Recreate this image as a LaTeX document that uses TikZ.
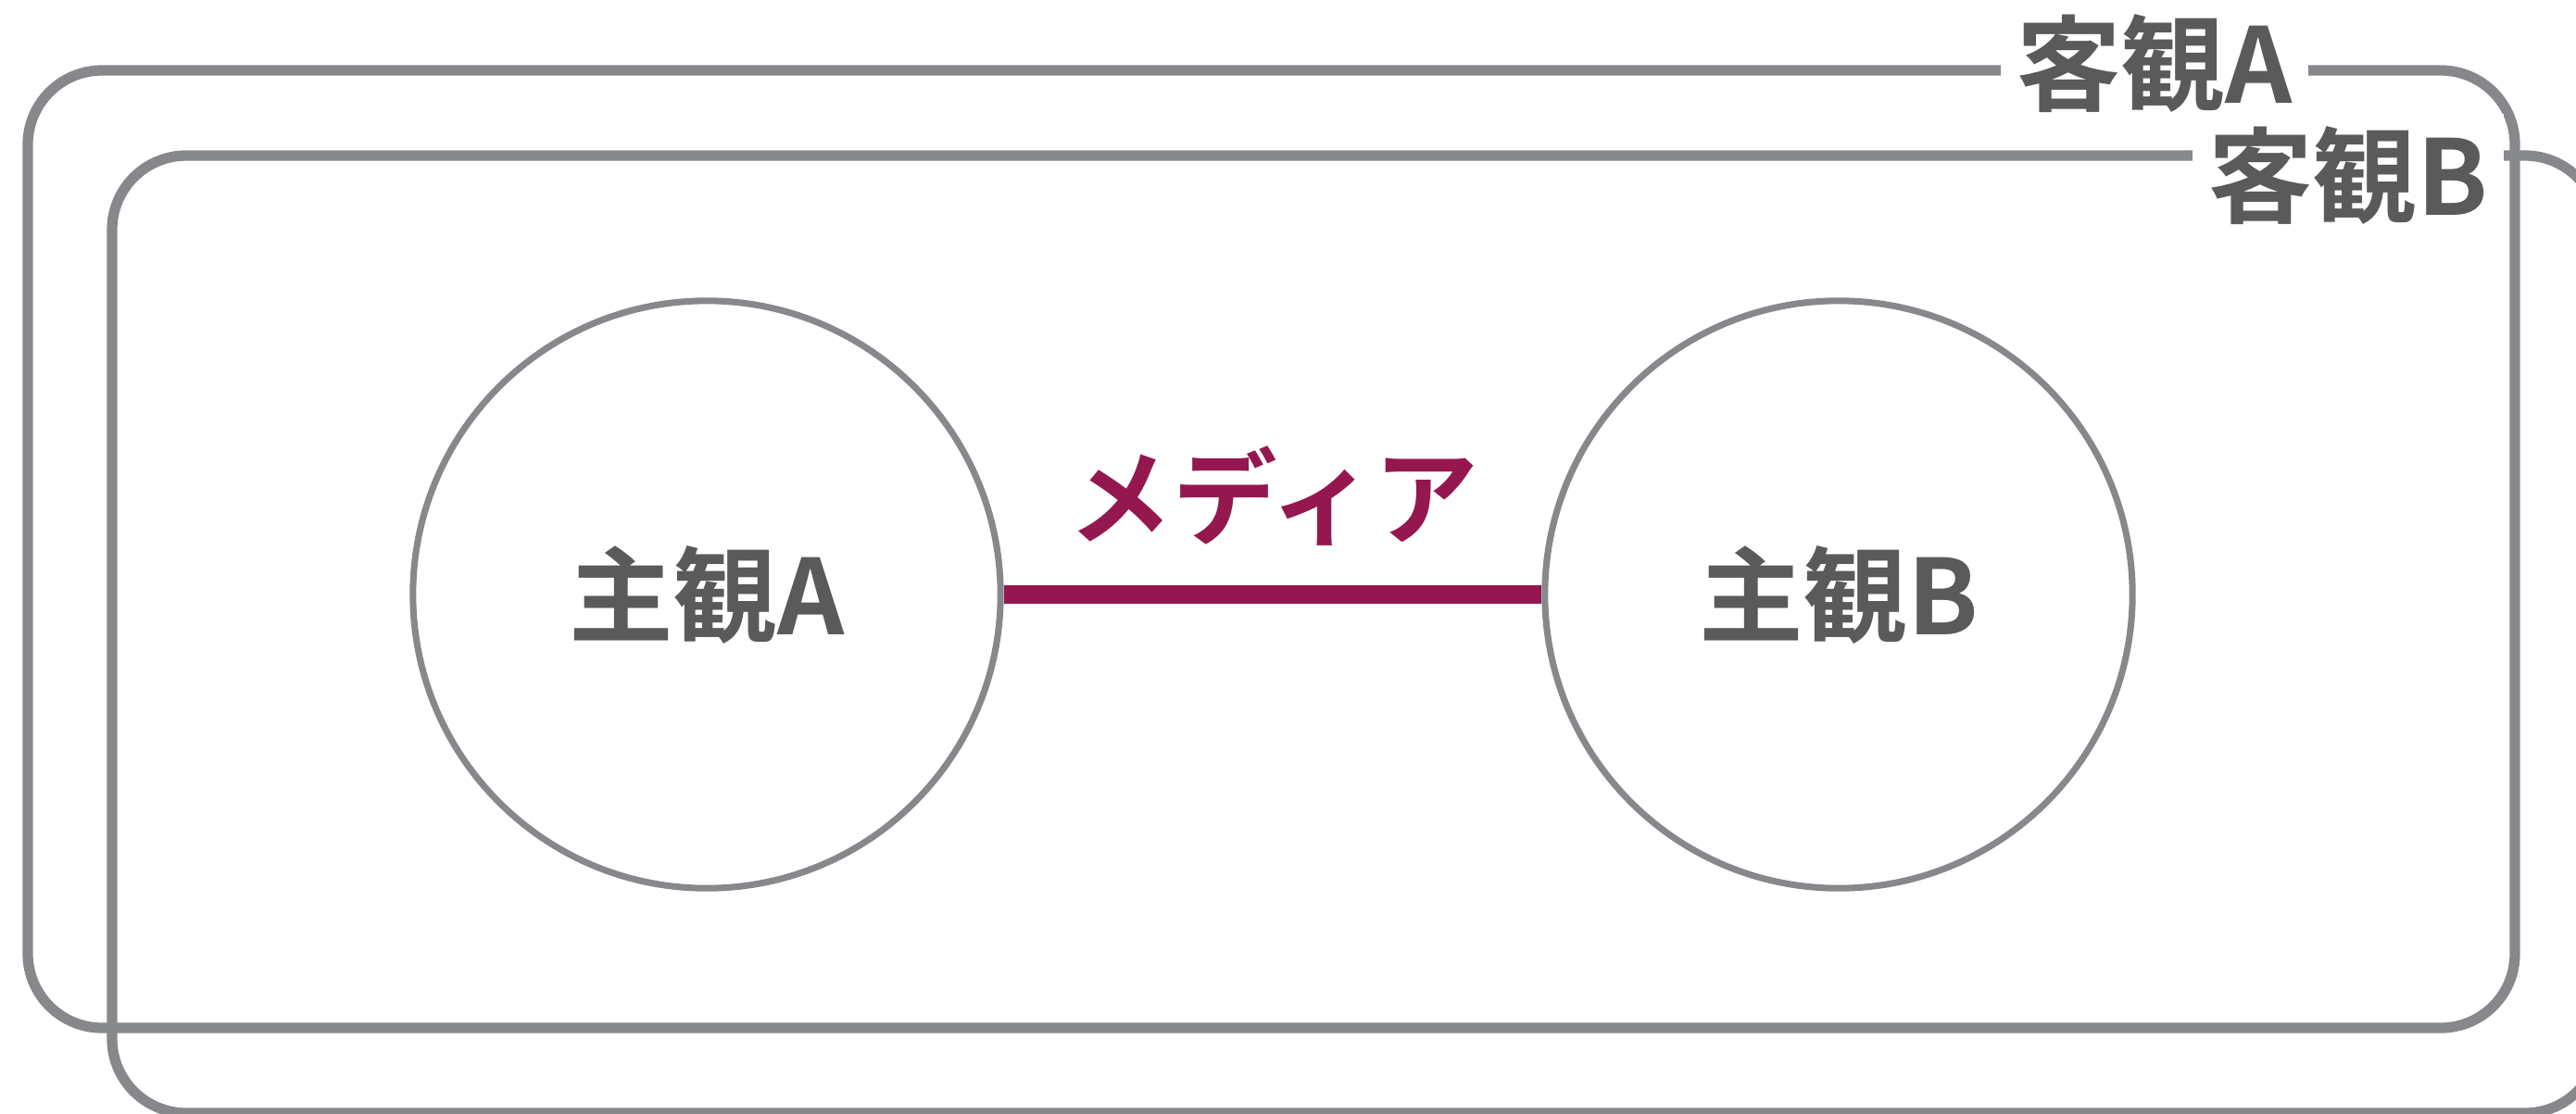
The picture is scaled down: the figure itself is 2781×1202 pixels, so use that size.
\documentclass[tikz,border=0pt]{standalone}
\usepackage{fontspec}
\newfontfamily\jp[BoldFont={Noto Sans CJK JP Bold}]{Noto Sans CJK JP}
\definecolor{linegray}{HTML}{86888C}
\definecolor{textgray}{HTML}{5A5A5A}
\definecolor{media}{HTML}{951750}
\begin{document}
\begin{tikzpicture}[x=0.01cm,y=-0.01cm,
  frame/.style={draw=linegray, line width=3.2pt, rounded corners=0.8cm},
  circ/.style={circle, draw=linegray, line width=2pt, minimum size=6.34cm, inner sep=0pt},
  lbl/.style={font=\jp\bfseries\fontsize{32}{32}\selectfont, text=textgray, inner sep=0pt},
  tag/.style={lbl, fill=white, inner xsep=5pt, inner ysep=4pt}]
\useasboundingbox (0,0) rectangle (2781,1202);
\clip (0,0) rectangle (2781,1202);
\draw[frame] (30,76) rectangle (2715,1110);
\draw[frame] (121,168) rectangle (2806,1202);
\node[tag] (oa) at (2326,69) {客観A};
\node[tag] (ob) at (2535,190) {客観B};
\node[circ] (ca) at (763,642) {};
\node[circ] (cb) at (1985,642) {};
\node[lbl] (sa) at (ca.center) {主観A};
\node[lbl] (sb) at (cb.center) {主観B};
\draw[draw=media, line width=5.5pt] (ca.east) -- (cb.west);
\node[lbl, text=media] (md) at (1375,536) {メディア};
\end{tikzpicture}
\end{document}
